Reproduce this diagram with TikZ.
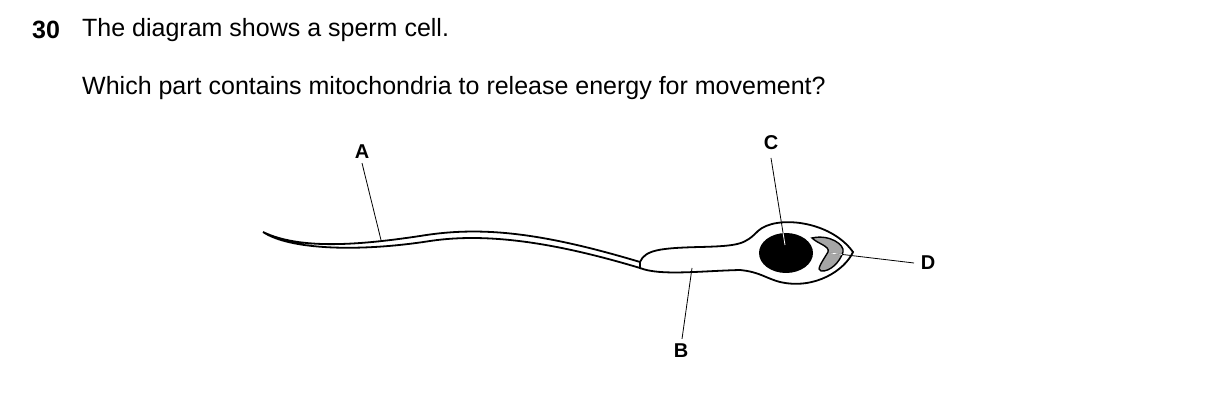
\documentclass[tikz,border=0pt]{standalone}
\usepackage{fontspec}
\setmainfont{Liberation Sans}
\begin{document}
\begin{tikzpicture}[x=1pt,y=-1pt,
  txt/.style={anchor=west,inner sep=0,font=\fontsize{25}{30}\selectfont},
  lab/.style={inner sep=0,font=\fontsize{20}{24}\selectfont\bfseries},
  ol/.style={line width=1.8pt},
  lead/.style={line width=0.8pt}]
\useasboundingbox (0,0) rectangle (1209,419);
\node[txt,font=\fontsize{25}{30}\selectfont\bfseries] (n) at (32,30) {30};
\node[txt] (t1) at (82,30) {The diagram shows a sperm cell.};
\node[txt] (t2) at (82,88) {Which part contains mitochondria to release energy for movement?};
% tail
\draw[ol,fill=white] (263,232) .. controls (300,250) and (360,245) .. (420,236)
  .. controls (480,226) and (540,232) .. (640,262)
  -- (640,268) .. controls (560,244) and (490,232) .. (430,241)
  .. controls (360,252) and (290,250) .. (263,232) -- cycle;
% body
\draw[ol,fill=white] (640,262) .. controls (645,250) and (660,248) .. (700,247)
  .. controls (740,246) and (745,244) .. (758,231)
  .. controls (775,215) and (830,220) .. (853,252)
  .. controls (845,270) and (815,290) .. (780,282)
  .. controls (765,278) and (760,272) .. (740,270)
  .. controls (700,271) and (660,276) .. (640,268) -- cycle;
\coordinate (bt) at (852,253);
\fill (786,253) ellipse [x radius=27, y radius=20];
\def\acro{(812,238) .. controls (830,234) and (845,245) .. (843,252)
  .. controls (840,262) and (830,272) .. (821,271)
  .. controls (816,270) and (822,262) .. (828,252)
  .. controls (830,246) and (818,244) .. (812,238) -- cycle}
\draw[line width=1.4pt,fill=gray!70] \acro;
% labels
\node[lab] (A) at (362,152) {A};
\node[lab] (C) at (771,143) {C};
\node[lab] (D) at (928,263) {D};
\node[lab] (B) at (681,351) {B};
\coordinate (a1) at (381,240);
\coordinate (c1) at (785,245);
\coordinate (d1) at (830,253);
\coordinate (b1) at (692,268);
\coordinate (c0) at (771,158);
\coordinate (d0) at (914,263);
\draw[lead] (A.south)++(0,4) -- (a1);
\draw[lead] (c0) -- (c1);
\begin{scope}
  \clip (786,253) ellipse [x radius=27, y radius=20];
  \draw[lead,white] (c0) -- (c1);
\end{scope}
\draw[lead] (d0) -- (d1);
\begin{scope}
  \clip \acro;
  \draw[lead,white] (d0) -- (d1);
\end{scope}
\draw[lead] (B.north)++(1,-5) -- (b1);
\end{tikzpicture}
\end{document}
